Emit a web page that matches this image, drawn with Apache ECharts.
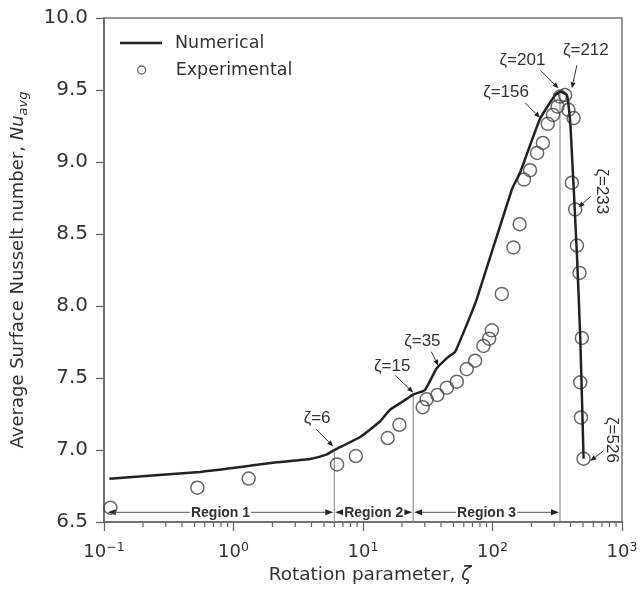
<!DOCTYPE html>
<html>
<head>
<meta charset="utf-8">
<script src="https://cdn.jsdelivr.net/npm/echarts@6/dist/echarts.min.js"></script>
<style>
html,body{margin:0;padding:0;background:#fff;}
#chart{width:641px;height:590px;}
</style>
</head>
<body>
<div id="chart"></div>
<script>
// ---- Data ----
const numZeta = [0.11, 0.55, 1.33, 2.15, 3.9, 5.2, 6, 9.5, 13.5, 16.1, 20.5, 24.4, 30, 37, 45.6, 51.4, 61.4, 75.7, 141, 163, 233, 305, 333, 376, 400, 449, 476, 505];
const numNu   = [6.80, 6.848, 6.89, 6.915, 6.938, 6.968, 7.0, 7.09, 7.198, 7.278, 7.34, 7.385, 7.416, 7.566, 7.647, 7.682, 7.843, 8.05, 8.809, 8.925, 9.30, 9.465, 9.488, 9.465, 9.25, 8.35, 7.78, 6.94];

const expZeta = [0.112, 0.526, 1.31, 6.3, 8.8, 15.5, 19.1, 28.9, 31, 37.5, 44.4, 53, 63.2, 73.4, 85.1, 94.2, 98.9, 118, 145, 162, 175, 195, 221, 245, 267, 293, 318, 332, 364, 386, 423, 410, 435, 449, 470, 490, 476, 482, 505];
const expNu   = [6.599, 6.738, 6.802, 6.90, 6.958, 7.083, 7.175, 7.297, 7.352, 7.382, 7.433, 7.474, 7.562, 7.62, 7.723, 7.773, 7.831, 8.084, 8.407, 8.568, 8.878, 8.943, 9.063, 9.132, 9.265, 9.327, 9.385, 9.454, 9.465, 9.362, 9.305, 8.856, 8.671, 8.42, 8.23, 7.778, 7.47, 7.226, 6.94];

// annotation arrows (target point on curve)
const annText = ['ζ=6', 'ζ=15', 'ζ=35', 'ζ=156', 'ζ=201', 'ζ=212', 'ζ=233', 'ζ=526'];
const annZeta = [5.88, 24.4, 38.2, 233, 323, 410, 462, 569];
const annNu   = [7.026, 7.40, 7.585, 9.307, 9.512, 9.512, 8.685, 6.924];

// region boundaries
const boundZeta = [6, 24.4, 332];
const boundTop  = [7.0, 7.39, 9.49];
const regionNames = ['Region 1', 'Region 2', 'Region 3'];
const regionFrom  = [0.105, 6, 24.4];
const regionTo    = [6, 24.4, 332];
const regionNu    = 6.567;

const yMin = 6.5, yMax = 10.0, yStep = 0.5;

// ---- Layout (styles, not data) ----
const annLayout = [
  {tx:-16, ty:-28, ax:-17, ay:-17, rot:0},
  {tx:-21, ty:-26, ax:-18, ay:-17, rot:0},
  {tx:-16, ty:-24, ax:-7,  ay:-14, rot:0},
  {tx:-34, ty:-25, ax:-15, ay:-15, rot:0},
  {tx:-36, ty:-28, ax:-18, ay:-18, rot:0},
  {tx:14,  ty:-38, ax:5,   ay:-23, rot:0},
  {tx:23,  ty:-16, ax:12,  ay:-11, rot:-Math.PI/2},
  {tx:21,  ty:-21, ax:13,  ay:-10, rot:-Math.PI/2}
];

const minorTicks = [];
for (let d = 0.1; d < 999; d *= 10) {
  for (let k = 2; k <= 9; k++) minorTicks.push([+(d * k).toPrecision(3), yMin]);
}

const chart = echarts.init(document.getElementById('chart'), null, {renderer: 'canvas'});
const FONT = '"DejaVu Sans", sans-serif';
const ARIAL = '"Liberation Sans", Arial, sans-serif';

function arrowHead(tip, ang, L, W) {
  const bx = tip[0] - L * Math.cos(ang), by = tip[1] - L * Math.sin(ang);
  return {base: [bx, by], pts: [[tip[0], tip[1]], [bx - W * Math.sin(ang), by + W * Math.cos(ang)], [bx + W * Math.sin(ang), by - W * Math.cos(ang)]]};
}

const option = {
  animation: false,
  backgroundColor: '#fff',
  grid: {left: 104, right: 19, top: 18, bottom: 66, show: true, borderColor: '#777', borderWidth: 1.5, backgroundColor: 'transparent'},
  legend: [
    {data: [{name: 'Numerical', icon: 'rect', itemStyle: {color: '#222'}}], left: 120, top: 34, padding: 0, orient: 'vertical', itemWidth: 42, itemHeight: 2.5,
     textStyle: {fontFamily: FONT, fontSize: 17.5, color: '#333', padding: [0, 0, 0, 8]}},
    {data: [{name: 'Experimental', icon: 'circle', itemStyle: {color: 'rgba(0,0,0,0)', borderColor: '#444', borderWidth: 1.3}}],
     left: 137, top: 61, padding: 0, orient: 'vertical', itemWidth: 8, itemHeight: 8,
     textStyle: {fontFamily: FONT, fontSize: 17.5, color: '#333', padding: [0, 0, 0, 25]}}
  ],
  xAxis: {
    type: 'log', logBase: 10, min: 0.1, max: 1000,
    name: '{n|Rotation parameter, }{z|ζ}', nameLocation: 'middle', nameGap: 44,
    nameTextStyle: {padding: [0, 0, 0, 14], rich: {n: {fontFamily: FONT, fontSize: 18.5, color: '#333'}, z: {fontFamily: FONT, fontSize: 18.5, fontStyle: 'italic', color: '#333'}}},
    axisLine: {show: true, lineStyle: {color: '#666', width: 1.5}},
    axisTick: {show: true, length: 9, lineStyle: {color: '#666', width: 1.3}},
    splitLine: {show: false},
    axisLabel: {
      margin: 19,
      formatter: function (v) {
        const e = Math.round(Math.log10(v));
        return '{b|10}{s|' + (e < 0 ? '−' + (-e) : e) + '}';
      },
      rich: {
        b: {fontFamily: FONT, fontSize: 18, color: '#333', lineHeight: 22},
        s: {fontFamily: FONT, fontSize: 12.5, color: '#333', verticalAlign: 'top', lineHeight: 14}
      }
    }
  },
  yAxis: {
    type: 'value', min: yMin, max: yMax, interval: yStep,
    name: '{n|Average Surface Nusselt number, }{i|Nu}{s|avg}', nameLocation: 'middle', nameGap: 74,
    nameTextStyle: {rich: {
      n: {fontFamily: FONT, fontSize: 18, color: '#333', lineHeight: 24},
      i: {fontFamily: FONT, fontSize: 18, fontStyle: 'italic', color: '#333', lineHeight: 24},
      s: {fontFamily: FONT, fontSize: 13, fontStyle: 'italic', color: '#333', verticalAlign: 'bottom', lineHeight: 13}
    }},
    axisLine: {show: true, lineStyle: {color: '#666', width: 1.5}},
    axisTick: {show: true, length: 8, lineStyle: {color: '#666', width: 1.3}},
    splitLine: {show: false},
    axisLabel: {margin: 16, fontFamily: FONT, fontSize: 20, color: '#333', formatter: v => v.toFixed(1)}
  },
  series: [
    {
      name: 'minor', type: 'custom', clip: false, silent: true, z: 1,
      data: minorTicks,
      renderItem: function (params, api) {
        const p = api.coord([api.value(0), api.value(1)]);
        return {type: 'line', shape: {x1: p[0], y1: p[1], x2: p[0], y2: p[1] + 5}, style: {stroke: '#666', lineWidth: 1.2}};
      }
    },
    {
      name: 'bounds', type: 'custom', silent: true, z: 2,
      data: boundZeta.map((x, i) => [x, boundTop[i]]),
      renderItem: function (params, api) {
        const top = api.coord([api.value(0), api.value(1)]);
        const bot = api.coord([api.value(0), yMin]);
        return {type: 'line', shape: {x1: top[0], y1: top[1], x2: bot[0], y2: bot[1]}, style: {stroke: '#8a8a8a', lineWidth: 1.1}};
      }
    },
    {
      name: 'regions', type: 'custom', silent: true, z: 3, clip: false,
      data: regionFrom.map((x, i) => [x, regionTo[i], regionNu]),
      renderItem: function (params, api) {
        const i = params.dataIndex;
        const a = api.coord([api.value(0), api.value(2)]);
        const b = api.coord([api.value(1), api.value(2)]);
        const h1 = arrowHead([a[0] + 1, a[1]], Math.PI, 8, 3);
        const h2 = arrowHead([b[0] - 1, b[1]], 0, 8, 3);
        return {type: 'group', children: [
          {type: 'line', shape: {x1: h1.base[0], y1: a[1], x2: h2.base[0], y2: b[1]}, style: {stroke: '#777', lineWidth: 1.1}},
          {type: 'polygon', shape: {points: h1.pts}, style: {fill: '#222'}},
          {type: 'polygon', shape: {points: h2.pts}, style: {fill: '#222'}},
          {type: 'text', x: (a[0] + b[0]) / 2, y: a[1] + 1, style: {text: regionNames[i], font: 'bold 14px ' + ARIAL, fill: '#333', align: 'center', verticalAlign: 'middle', backgroundColor: '#fff', padding: [0, 1]}}
        ]};
      }
    },
    {
      name: 'Experimental', type: 'scatter', z: 4,
      symbol: 'circle', symbolSize: 13,
      itemStyle: {color: 'rgba(0,0,0,0)', borderColor: '#444', borderWidth: 1.5},
      data: expZeta.map((x, i) => [x, expNu[i]])
    },
    {
      name: 'Numerical', type: 'line', z: 5,
      showSymbol: false, symbol: 'none', smooth: 0.15,
      lineStyle: {color: '#222', width: 2.5},
      itemStyle: {color: '#222'},
      data: numZeta.map((x, i) => [x, numNu[i]])
    },
    {
      name: 'annotations', type: 'custom', silent: true, z: 6, clip: false,
      data: annZeta.map((x, i) => [x, annNu[i]]),
      renderItem: function (params, api) {
        const i = params.dataIndex;
        const p = api.coord([api.value(0), api.value(1)]);
        const o = annLayout[i];
        const sx = p[0] + o.ax, sy = p[1] + o.ay;
        const ang = Math.atan2(p[1] - sy, p[0] - sx);
        const h = arrowHead(p, ang, 6, 2.5);
        return {type: 'group', children: [
          {type: 'line', shape: {x1: sx, y1: sy, x2: h.base[0], y2: h.base[1]}, style: {stroke: '#333', lineWidth: 1}},
          {type: 'polygon', shape: {points: h.pts}, style: {fill: '#222'}},
          {type: 'text', x: p[0] + o.tx, y: p[1] + o.ty, rotation: o.rot,
           style: {text: annText[i], font: '17px ' + ARIAL, fill: '#333', align: 'center', verticalAlign: 'middle'}}
        ]};
      }
    }
  ]
};
chart.setOption(option);
</script>
</body>
</html>
